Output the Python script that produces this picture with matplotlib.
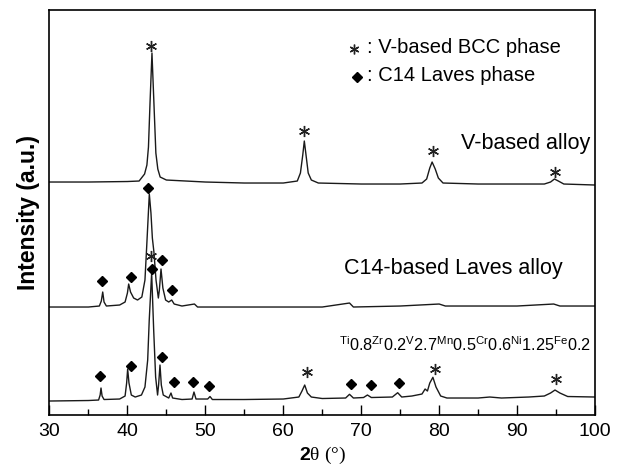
import numpy as np
import matplotlib
matplotlib.use("Agg")
import matplotlib.pyplot as plt

plt.rcParams['font.family'] = ['Liberation Sans', 'DejaVu Sans']
plt.rcParams['mathtext.fontset'] = 'custom'
plt.rcParams['mathtext.rm'] = 'Liberation Sans'
plt.rcParams['mathtext.bf'] = 'Liberation Sans:bold'

# V-based alloy (top pattern), 2theta vs intensity (a.u., offset)
v_tt = [30, 35, 40, 41.5, 42.2, 42.5, 42.7, 42.9, 43.15, 43.4, 43.65, 43.9, 44.2, 45,
        50, 55, 60, 61.8, 62.2, 62.5, 62.7, 62.95, 63.2, 63.6, 64.5, 70, 75, 77.8,
        78.4, 78.8, 79.1, 79.5, 79.9, 80.5, 85, 90, 93.5, 94.3, 94.8, 95.3, 96, 100]
v_int = [233, 233, 233.5, 234, 241, 250, 268, 312, 362, 312, 262, 246, 238, 235,
         233, 232, 232, 234, 242, 260, 274, 258, 242, 235, 232, 231, 231, 232,
         236, 247, 253, 246, 237, 232, 231, 231, 231, 233, 236, 234, 231, 230]

# C14-based Laves alloy (middle pattern)
c14_tt = [30, 35, 36.4, 36.65, 36.83, 37.0, 37.3, 39.0, 39.7, 40.0, 40.16, 40.4, 40.8,
          41.3, 41.85, 42.25, 42.47, 42.81, 43.02, 43.2, 43.4, 43.67, 43.97, 44.1,
          44.31, 44.55, 44.9, 45.3, 45.68, 46.0, 47, 48.6, 49, 55, 60, 65, 68.5, 69,
          75, 80.0, 80.8, 85, 90, 94.7, 95.5, 100]
c14_int = [108, 108, 109, 114, 123, 113, 109, 110, 113, 122, 131, 123, 117,
           115, 118, 135, 168, 221, 202, 177, 163, 135, 117, 125,
           146, 127, 115, 113, 115, 111, 109, 111, 108, 108, 108, 108, 112, 108,
           109, 111, 109, 109, 109, 111, 109, 109]

# Ti0.8Zr0.2V2.7Mn0.5Cr0.6Ni1.25Fe0.2 (bottom pattern)
ti_tt = [30, 35, 36.3, 36.5, 36.61, 36.75, 37.0, 39.0, 39.7, 39.9, 40.03, 40.2, 40.5,
         41, 41.8, 42.25, 42.6, 42.8, 43.11, 43.37, 43.62, 43.87, 44.0, 44.18, 44.35,
         44.6, 45.3, 45.59, 45.8, 47, 48.3, 48.54, 48.8, 50.3, 50.6, 50.9, 55, 60,
         62.0, 62.4, 62.75, 63.1, 63.6, 65, 68.0, 68.5, 69.0, 70.3, 70.8, 71.3, 74.0,
         74.68, 75.2, 76.5, 77.8, 78.2, 78.5, 78.8, 79.2, 79.6, 80.2, 81, 85, 86.5,
         88, 91.5, 93.5, 94.3, 94.87, 95.5, 96.5, 100]
ti_int = [14, 14.5, 15, 20, 27, 19, 15.5, 16, 19, 32, 46, 32, 20,
          18, 20, 28, 55, 95, 142, 85, 38, 20, 30, 50, 30,
          20, 17, 22, 17, 15.5, 16, 23, 16, 16, 18.5, 15.5, 15.5, 16,
          18, 24, 30, 22, 18, 16.5, 17, 20.7, 17, 17.5, 20, 17.5, 18,
          22.3, 18, 19, 21, 26, 24, 32, 37.7, 28, 19, 17, 17, 18,
          17, 18, 19, 22, 25, 22, 18.5, 18]

# phase markers
bcc_tt = [43.05, 62.7, 79.15, 94.84, 43.0, 63.0, 79.5, 95.0]
bcc_int = [369, 284, 264, 243, 159, 43, 46, 36]
c14_mark_tt = [36.7, 40.42, 42.68, 43.2, 44.5, 45.68,
               36.49, 40.5, 44.47, 45.98, 48.36, 50.47, 68.75, 71.2, 74.85]
c14_mark_int = [134, 138, 227, 146, 155, 125,
                39, 49, 58, 33, 33, 29, 31, 30, 32]

fig = plt.figure(figsize=(6.21, 4.69), dpi=100)
ax = fig.add_axes([0.0797, 0.1151, 0.8784, 0.8646])

for tt, inten in [(v_tt, v_int), (c14_tt, c14_int), (ti_tt, ti_int)]:
    ax.plot(tt, inten, color='#1a1a1a', lw=1.0)

ax.plot(bcc_tt, bcc_int, ls='none', marker=(6, 2, 0), ms=8, mec='#222222', mew=1.0)
ax.plot(c14_mark_tt, c14_mark_int, ls='none', marker='D', ms=5, color='black')

# legend-like annotations
ax.plot([69.1], [366], ls='none', marker=(6, 2, 0), ms=7, mec='#222222', mew=1.0)
ax.text(70.7, 368, ': V-based BCC phase', fontsize=14.5, ha='left', va='center')
ax.plot([69.5], [338], ls='none', marker='D', ms=5, color='black')
ax.text(70.7, 340, ': C14 Laves phase', fontsize=14.5, ha='left', va='center')

ax.text(99.4, 272, 'V-based alloy', fontsize=15.5, ha='right', va='center')
ax.text(81.8, 147, 'C14-based Laves alloy', fontsize=15.5, ha='center', va='center')
ax.text(67.1, 70,
        r'$\mathregular{{}^{Ti}0.8{}^{Zr}0.2{}^{V}2.7{}^{Mn}0.5{}^{Cr}0.6{}^{Ni}1.25{}^{Fe}0.2}$',
        fontsize=11.7, ha='left', va='center')

ax.set_xlim(30, 100)
ax.set_ylim(0, 405.5)
ax.set_xticks(np.arange(30, 101, 10))
ax.set_xticks(np.arange(35, 100, 10), minor=True)
ax.set_yticks([])
ax.tick_params(axis='x', which='both', direction='in', top=False, labelsize=14, pad=6)
ax.tick_params(axis='x', which='major', length=7, width=1)
ax.tick_params(axis='x', which='minor', length=4, width=1)
for sp in ax.spines.values():
    sp.set_linewidth(1.2)

ax.set_xlabel(r'$\mathbf{2}$θ (°)', fontsize=14, family=['Liberation Serif', 'DejaVu Serif'], labelpad=3)
ax.set_ylabel('Intensity (a.u.)', fontsize=16.5, fontweight='bold', va='center')
ax.yaxis.set_label_coords(-0.039, 0.5)

fig.savefig('out.png', dpi=100)
